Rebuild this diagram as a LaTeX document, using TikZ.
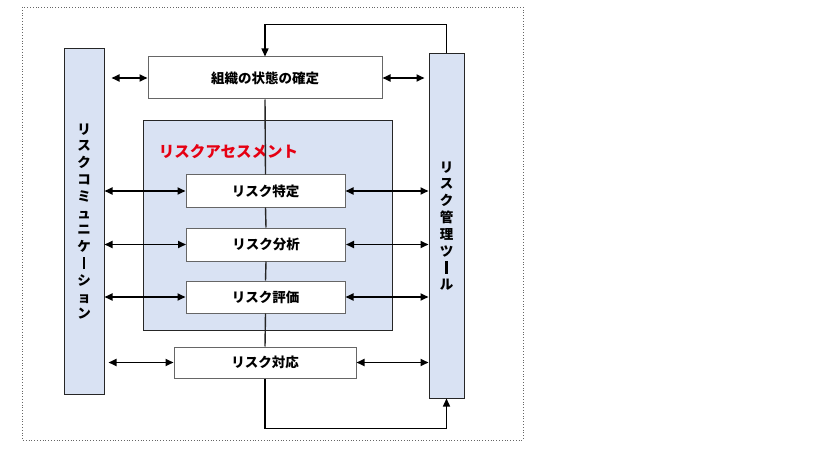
\documentclass[tikz,border=0pt]{standalone}
\usepackage{fontspec}
\setmainfont{Noto Sans CJK JP}
\usepackage{xcolor}
\usetikzlibrary{arrows.meta}
\definecolor{barblue}{RGB}{217,226,243}
\definecolor{assessred}{RGB}{230,0,18}
\newcommand{\longbar}{\rule[-0.05em]{0.15em}{0.9em}}

\begin{document}
\begin{tikzpicture}[x=1pt,y=-1pt,
	stepbox/.style={draw=black!60, line width=1pt, fill=white, inner sep=0pt, font=\fontsize{13.5}{15}\selectfont\bfseries},
	barbox/.style={draw=black!85, line width=1pt, fill=barblue, inner sep=0pt, align=center, font=\fontsize{13.5}{16.8}\selectfont\bfseries},
	link/.style={line width=1.4pt, black!85},
	both/.style={line width=1.8pt, {Triangle[length=8pt,width=7pt]}-{Triangle[length=8pt,width=7pt]}},
	flow/.style={line width=1.4pt, -{Triangle[length=8pt,width=7pt]}}]
		\useasboundingbox (0,0) rectangle (840,465);
		\draw[black!60, dotted, line width=0.8pt] (22,7) rectangle (523,440);
		
		% risk assessment area
		\node[draw=black!85, line width=1pt, fill=barblue, minimum width=249pt, minimum height=209pt] (assess) at (267.5,225.5) {};
		\node[text=assessred, font=\fontsize{15.5}{17}\selectfont\bfseries] (assesslabel) at (228.5,152) {リスクアセスメント};
		
		\node[stepbox, minimum width=234pt, minimum height=42pt] (org) at (265,78) {組織の状態の確定};
		\node[stepbox, minimum width=159pt, minimum height=32pt] (ident) at (265.5,191) {リスク特定};
		\node[stepbox, minimum width=159pt, minimum height=33pt] (analy) at (266,244.5) {リスク分析};
		\node[stepbox, minimum width=159pt, minimum height=32pt] (evalu) at (265.5,297) {リスク評価};
		\node[stepbox, minimum width=182pt, minimum height=31pt] (treat) at (265,362.5) {リスク対応};
		
		\draw[link] (org.south) -- (ident.north);
		\draw[link] (ident.south) -- (analy.north);
		\draw[link] (analy.south) -- (evalu.north);
		\draw[link] (evalu.south) -- (treat.north);
		
		% side bars
		\node[barbox, minimum width=40pt, minimum height=345pt] (comm) at (84,221.5) {リ\\ス\\ク\\コ\\ミ\\ュ\\ニ\\ケ\\\longbar\\シ\\ョ\\ン};
		\node[barbox, minimum width=35pt, minimum height=344pt] (tool) at (446.5,226) {リ\\ス\\ク\\管\\理\\ツ\\\longbar\\ル};
		
		\draw[both, shorten <=7pt] (comm.east |- org) -- (org.west);
		\draw[both] (comm.east |- ident) -- (ident.west);
		\draw[both] (comm.east |- analy) -- (analy.west);
		\draw[both] (comm.east |- evalu) -- (evalu.west);
		\draw[both, shorten <=4pt] (comm.east |- treat) -- (treat.west);
		
		\draw[both, shorten >=4pt] (org.east) -- (tool.west |- org);
		\draw[both] (ident.east) -- (tool.west |- ident);
		\draw[both] (analy.east) -- (tool.west |- analy);
		\draw[both] (evalu.east) -- (tool.west |- evalu);
		\draw[both] (treat.east) -- (tool.west |- treat);
		
		% feedback loops
		\draw[flow] (tool.north) -- ++(0,-29) -| (org.north);
		\draw[flow] (treat.south) -- ++(0,50) -| (tool.south);
	\end{tikzpicture}
\end{document}
